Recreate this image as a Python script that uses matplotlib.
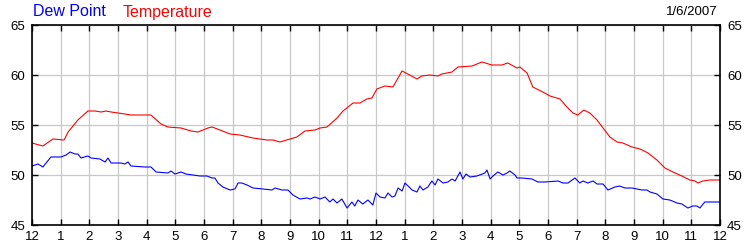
import matplotlib
matplotlib.use("Agg")
import matplotlib.pyplot as plt

plt.rcParams['font.family'] = ['Liberation Sans', 'DejaVu Sans']

# hours since midnight / readings (deg F)
temp_hours = [0.00, 0.38, 0.73, 1.12, 1.26, 1.60, 1.95, 2.20, 2.41, 2.58, 2.76, 3.24, 3.45,
              4.15, 4.50, 4.74, 5.20, 5.55, 5.79, 6.14, 6.28, 6.56, 6.91, 7.25, 7.71, 8.20,
              8.41, 8.65, 9.00, 9.24, 9.52, 9.87, 10.05, 10.29, 10.64, 10.85, 11.20, 11.44,
              11.68, 11.86, 12.03, 12.31, 12.59, 12.91, 13.11, 13.43, 13.60, 13.88, 14.16,
              14.30, 14.65, 14.86, 15.35, 15.70, 16.04, 16.39, 16.60, 16.92, 17.02, 17.27,
              17.47, 17.82, 18.07, 18.42, 18.66, 18.87, 19.04, 19.25, 19.46, 19.71, 19.92,
              20.16, 20.41, 20.61, 20.93, 21.21, 21.49, 21.80, 22.08, 22.36, 22.67, 22.95,
              23.13, 23.23, 23.40, 23.65, 24.00]
temperature = [53.2, 52.9, 53.6, 53.5, 54.3, 55.5, 56.4, 56.4, 56.3, 56.4, 56.3, 56.1, 56.0,
               56.0, 55.1, 54.8, 54.7, 54.4, 54.3, 54.7, 54.8, 54.5, 54.1, 54.0, 53.7, 53.5,
               53.5, 53.3, 53.6, 53.8, 54.4, 54.5, 54.7, 54.8, 55.7, 56.4, 57.2, 57.2,
               57.6, 57.7, 58.6, 58.9, 58.8, 60.4, 60.1, 59.6, 59.9, 60.0, 59.9,
               60.1, 60.3, 60.8, 60.9, 61.3, 61.0, 61.0, 61.2, 60.7, 60.8, 60.2,
               58.8, 58.3, 57.9, 57.6, 56.8, 56.2, 56.0, 56.5, 56.2, 55.5, 54.7,
               53.8, 53.3, 53.2, 52.8, 52.6, 52.2, 51.5, 50.7, 50.3, 49.9, 49.5,
               49.4, 49.2, 49.4, 49.5, 49.5]

dew_hours = [0.00, 0.21, 0.38, 0.66, 1.01, 1.19, 1.33, 1.50, 1.60, 1.71, 1.95, 2.06, 2.37,
             2.55, 2.65, 2.76, 3.10, 3.24, 3.35, 3.45, 3.94, 4.15, 4.33, 4.74, 4.85, 4.99,
             5.20, 5.37, 5.86, 6.10, 6.28, 6.38, 6.49, 6.66, 6.91, 7.08, 7.19, 7.32, 7.50,
             7.71, 8.06, 8.37, 8.48, 8.72, 8.93, 9.10, 9.35, 9.59, 9.70, 9.87, 10.05, 10.22,
             10.39, 10.50, 10.64, 10.81, 10.99, 11.16, 11.26, 11.37, 11.54, 11.72, 11.89,
             12.00, 12.14, 12.31, 12.42, 12.56, 12.66, 12.77, 12.91, 13.01, 13.12, 13.26,
             13.43, 13.53, 13.64, 13.81, 13.95, 14.06, 14.16, 14.34, 14.51, 14.65, 14.76,
             14.93, 15.03, 15.14, 15.28, 15.52, 15.80, 15.87, 15.98, 16.08, 16.25, 16.43,
             16.57, 16.67, 16.85, 16.92, 17.09, 17.44, 17.65, 17.89, 18.35, 18.52, 18.70,
             18.94, 19.11, 19.22, 19.39, 19.57, 19.71, 19.92, 20.09, 20.33, 20.50, 20.68,
             20.93, 21.28, 21.45, 21.56, 21.80, 22.01, 22.25, 22.50, 22.67, 22.88, 23.05,
             23.19, 23.30, 23.47, 23.75, 24.00]
dew_point = [50.9, 51.1, 50.8, 51.8, 51.8, 52.0, 52.3, 52.1, 52.1, 51.7, 51.9, 51.7, 51.6,
             51.3, 51.7, 51.2, 51.2, 51.1, 51.3, 50.9, 50.8, 50.8, 50.3, 50.2, 50.4, 50.1,
             50.3, 50.1, 49.9, 49.9, 49.7, 49.7, 49.2, 48.8, 48.5, 48.6, 49.2, 49.2, 49.0,
             48.7, 48.6, 48.5, 48.7, 48.5, 48.5, 48.0, 47.6, 47.7, 47.6, 47.8, 47.6, 47.8,
             47.3, 47.6, 47.2, 47.6, 46.7, 47.3, 46.9, 47.5, 47.1, 47.5, 47.0,
             48.2, 47.8, 47.7, 48.2, 47.8, 47.9, 48.7, 48.4, 49.2, 48.9, 48.5,
             48.3, 48.9, 48.5, 48.8, 49.4, 49.0, 49.6, 49.2, 49.3, 49.6, 49.4,
             50.3, 49.6, 50.1, 49.8, 49.9, 50.2, 50.5, 49.6, 49.9, 50.3, 50.0,
             50.2, 50.4, 50.0, 49.7, 49.7, 49.6, 49.3, 49.3, 49.4, 49.2, 49.2,
             49.7, 49.2, 49.4, 49.2, 49.4, 49.1, 49.1, 48.5, 48.8, 48.9, 48.7,
             48.7, 48.5, 48.5, 48.3, 48.1, 47.6, 47.5, 47.2, 47.1, 46.7, 46.9,
             46.9, 46.7, 47.3, 47.3, 47.3]

hour_labels = ['12', '1', '2', '3', '4', '5', '6', '7', '8', '9', '10', '11',
               '12', '1', '2', '3', '4', '5', '6', '7', '8', '9', '10', '11', '12']
y_ticks = [45, 50, 55, 60, 65]
date_label = '1/6/2007'

fig = plt.figure(figsize=(7.5, 2.5), dpi=100)
ax = fig.add_axes([32 / 750, 25 / 250, 688 / 750, 200 / 250])

ax.plot(dew_hours, dew_point, color='#0000ff', lw=0.8)
ax.plot(temp_hours, temperature, color='#ff0000', lw=0.8)

ax.set_xlim(0, 24)
ax.set_ylim(45, 65)
ax.set_xticks(range(25))
ax.set_xticklabels(hour_labels)
ax.set_yticks(y_ticks)
ax.grid(True, color='#c8c8c8', lw=0.9)
ax.set_axisbelow(True)
ax.tick_params(axis='both', direction='in', length=4, width=1, color='black',
               labelsize=9.5, top=True, right=True, labelright=True)
ax.tick_params(axis='x', pad=4)
ax.tick_params(axis='y', pad=5)
for s in ax.spines.values():
    s.set_linewidth(1.2)
    s.set_color('black')

fig.text(33 / 750, 1 - 12 / 250, 'Dew Point', color='#0000ff', fontsize=11.5,
         ha='left', va='center')
fig.text(123 / 750, 1 - 12 / 250, 'Temperature', color='#ff0000', fontsize=11.5,
         ha='left', va='center')
fig.text(718 / 750, 1 - 12 / 250, date_label, color='black', fontsize=9.5,
         ha='right', va='center')

fig.savefig('out.png', dpi=100)
